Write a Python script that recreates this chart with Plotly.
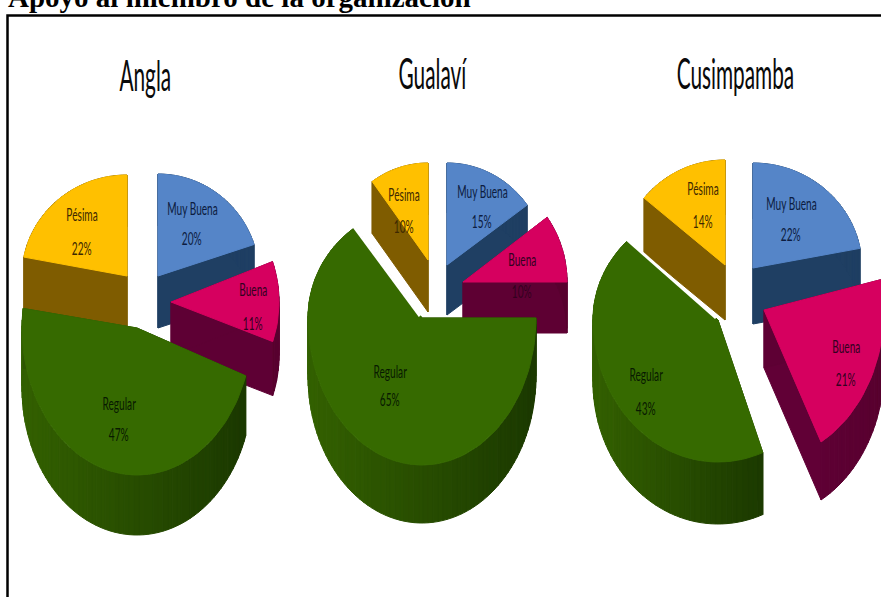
import math
import plotly.graph_objects as go

# Survey shares per community, in percent
categorias = ["Muy Buena", "Buena", "Regular", "Pésima"]
angla = [20, 11, 47, 22]
gualavi = [15, 10, 65, 10]
cusimpamba = [22, 21, 43, 14]

encabezado = "Apoyo al miembro de la organización"
comunidades = ["Angla", "Gualaví", "Cusimpamba"]
valores = {"Angla": angla, "Gualaví": gualavi, "Cusimpamba": cusimpamba}

# Slice placement: apex x/y, radii (x, upper y, lower y), start angle, wall depth
GEOM = {
    "Angla": {
        "Muy Buena": (158, 276, 101, 102, 102, 0, 52),
        "Buena": (171, 302, 108, 118, 118, 70, 54),
        "Regular": (137, 328, 115, 137, 147, 109, 60),
        "Pésima": (127, 276, 105, 101, 101, -79.2, 52),
    },
    "Gualaví": {
        "Muy Buena": (447, 265, 99, 102, 102, 0, 50),
        "Buena": (463, 282, 104, 110, 110, 54, 51),
        "Regular": (422, 318, 114, 112, 147, 90, 58),
        "Pésima": (428, 260, 95, 97, 97, -36, 52),
    },
    "Cusimpamba": {
        "Muy Buena": (753, 268, 109, 105, 105, 0, 56),
        "Buena": (764, 310, 120, 125, 150, 76, 58),
        "Regular": (718, 320, 125, 115, 142, 159, 62),
        "Pésima": (725, 265, 105, 105, 105, -50.4, 55),
    },
}
# Back-to-front drawing order for each pie
ORDEN = {
    "Angla": ["Pésima", "Muy Buena", "Buena", "Regular"],
    "Gualaví": ["Pésima", "Muy Buena", "Buena", "Regular"],
    "Cusimpamba": ["Muy Buena", "Pésima", "Regular", "Buena"],
}
TOPE = {"Muy Buena": "#5585C8", "Buena": "#D6005F", "Regular": "#366A00", "Pésima": "#FFC000"}
PARED = {
    "Muy Buena": ("#1F3F63", "#1F3F63"),
    "Buena": ("#640038", "#58002F"),
    "Regular": ("#336000", "#1C3A00"),
    "Pésima": ("#7F5C00", "#7F5C00"),
}
TINTA = {"Muy Buena": "#0C1C40", "Buena": "#33001F", "Regular": "#081A00", "Pésima": "#3D2800"}
# Label centres: (name x, name y, percent y)
ROTULOS = {
    "Angla": {
        "Muy Buena": (192, 207, 237), "Buena": (253, 288, 322),
        "Regular": (119, 402, 433), "Pésima": (82, 213, 247),
    },
    "Gualaví": {
        "Muy Buena": (482, 190, 220), "Buena": (522, 258, 290),
        "Regular": (390, 370, 398), "Pésima": (404, 193, 225),
    },
    "Cusimpamba": {
        "Muy Buena": (791, 202, 233), "Buena": (846, 345, 378),
        "Regular": (646, 373, 407), "Pésima": (703, 187, 220),
    },
}
TITULOS = {"Angla": (145, 75), "Gualaví": (432, 73), "Cusimpamba": (735, 73)}
BANDAS = 24


def mezcla(a, b, f):
    ca = [int(a[i:i + 2], 16) for i in (1, 3, 5)]
    cb = [int(b[i:i + 2], 16) for i in (1, 3, 5)]
    return "#%02X%02X%02X" % tuple(round(p + (q - p) * f) for p, q in zip(ca, cb))


def cuña(g, valor):
    """Outline of a slice's top face, with the angular span taken from its value."""
    cx, cy, rx, ry_a, ry_b, ini, _ = g
    pasos = max(12, int(valor * 1.5))
    pts = [(cx, cy)]
    for i in range(pasos + 1):
        t = math.radians(ini + valor * 3.6 * i / pasos)
        c = math.cos(t)
        pts.append((cx + rx * math.sin(t), cy - (ry_a if c > 0 else ry_b) * c))
    return pts


fig = go.Figure()
for nombre in comunidades:
    for cat in ORDEN[nombre]:
        valor = valores[nombre][categorias.index(cat)]
        g = GEOM[nombre][cat]
        pts = cuña(g, valor)
        prof = g[6]
        xs = [p[0] for p in pts]
        xmin, xmax = min(xs), max(xs)

        # Side walls: one extruded quad per outline edge, grouped in shading bands
        bandas = {}
        for a, b in zip(pts, pts[1:] + pts[:1]):
            quad = [a, b, (b[0], b[1] + prof), (a[0], a[1] + prof)]
            area = sum(quad[i][0] * quad[(i + 1) % 4][1] - quad[(i + 1) % 4][0] * quad[i][1] for i in range(4))
            if area < 0:
                quad.reverse()
            f = ((a[0] + b[0]) / 2 - xmin) / max(xmax - xmin, 1)
            bandas.setdefault(min(int(f * BANDAS), BANDAS - 1), []).append(quad)
        for k in sorted(bandas):
            color = mezcla(*PARED[cat], k / (BANDAS - 1))
            qx, qy = [], []
            for q in bandas[k]:
                qx += [p[0] for p in q] + [q[0][0], None]
                qy += [p[1] for p in q] + [q[0][1], None]
            fig.add_trace(go.Scatter(x=qx, y=qy, mode="lines", fill="toself", fillcolor=color,
                                     line=dict(color=color, width=1), hoverinfo="skip", showlegend=False))

        # Top face
        fig.add_trace(go.Scatter(x=[p[0] for p in pts] + [pts[0][0]], y=[p[1] for p in pts] + [pts[0][1]],
                                 mode="lines", fill="toself", fillcolor=TOPE[cat],
                                 line=dict(color=TOPE[cat], width=1), name=cat, showlegend=False,
                                 hovertemplate=f"{nombre} – {cat}: {valor}%<extra></extra>"))

        # Pale seam along the large slice's upper radial edge
        if cat == "Regular" and nombre != "Angla":
            fig.add_trace(go.Scatter(x=[pts[-1][0] - 2, pts[0][0] - 2], y=[pts[-1][1] - 2, pts[0][1] - 2],
                                     mode="lines", line=dict(color="#FFFFFF", width=3),
                                     hoverinfo="skip", showlegend=False))

anotaciones = [dict(x=6, y=15, xref="x", yref="y", xanchor="left", yanchor="bottom", showarrow=False,
                    text=f"<b>{encabezado}</b>",
                    font=dict(family="Liberation Serif", size=29, color="#000000"))]
for nombre in comunidades:
    tx, ty = TITULOS[nombre]
    anotaciones.append(dict(x=tx, y=ty, xref="x", yref="y", showarrow=False, text=nombre,
                            font=dict(family="Lato", size=26, color="#0A0A0A")))
    for cat in categorias:
        lx, ly, py = ROTULOS[nombre][cat]
        valor = valores[nombre][categorias.index(cat)]
        for texto, y in ((cat, ly), (f"{valor}%", py)):
            anotaciones.append(dict(x=lx, y=y, xref="x", yref="y", showarrow=False, text=texto,
                                    font=dict(family="Lato", size=11, color=TINTA[cat])))

fig.update_layout(
    width=881, height=597, margin=dict(l=0, r=0, t=0, b=0),
    paper_bgcolor="#FFFFFF", plot_bgcolor="#FFFFFF", showlegend=False,
    xaxis=dict(range=[0, 881], visible=False, fixedrange=True),
    yaxis=dict(range=[597, 0], visible=False, fixedrange=True),
    annotations=anotaciones,
    shapes=[dict(type="rect", xref="x", yref="y", x0=7.5, y0=15.5, x1=900, y1=620,
                 line=dict(color="#000000", width=2.5), layer="below")],
)

# The condensed captions are tall and narrow: squeeze them about their centres
ESTIRA = """
document.querySelectorAll('text.annotation-text').forEach(function (t) {
  if (t.style.fontFamily.indexOf('Lato') >= 0) {
    var grande = parseFloat(t.style.fontSize) > 20;
    t.style.transformBox = 'fill-box';
    t.style.transformOrigin = 'center';
    t.style.transform = grande ? 'scale(0.8,1.6)' : 'scale(0.92,1.6)';
  }
});
"""
fig.write_html("out.html", post_script=ESTIRA)
